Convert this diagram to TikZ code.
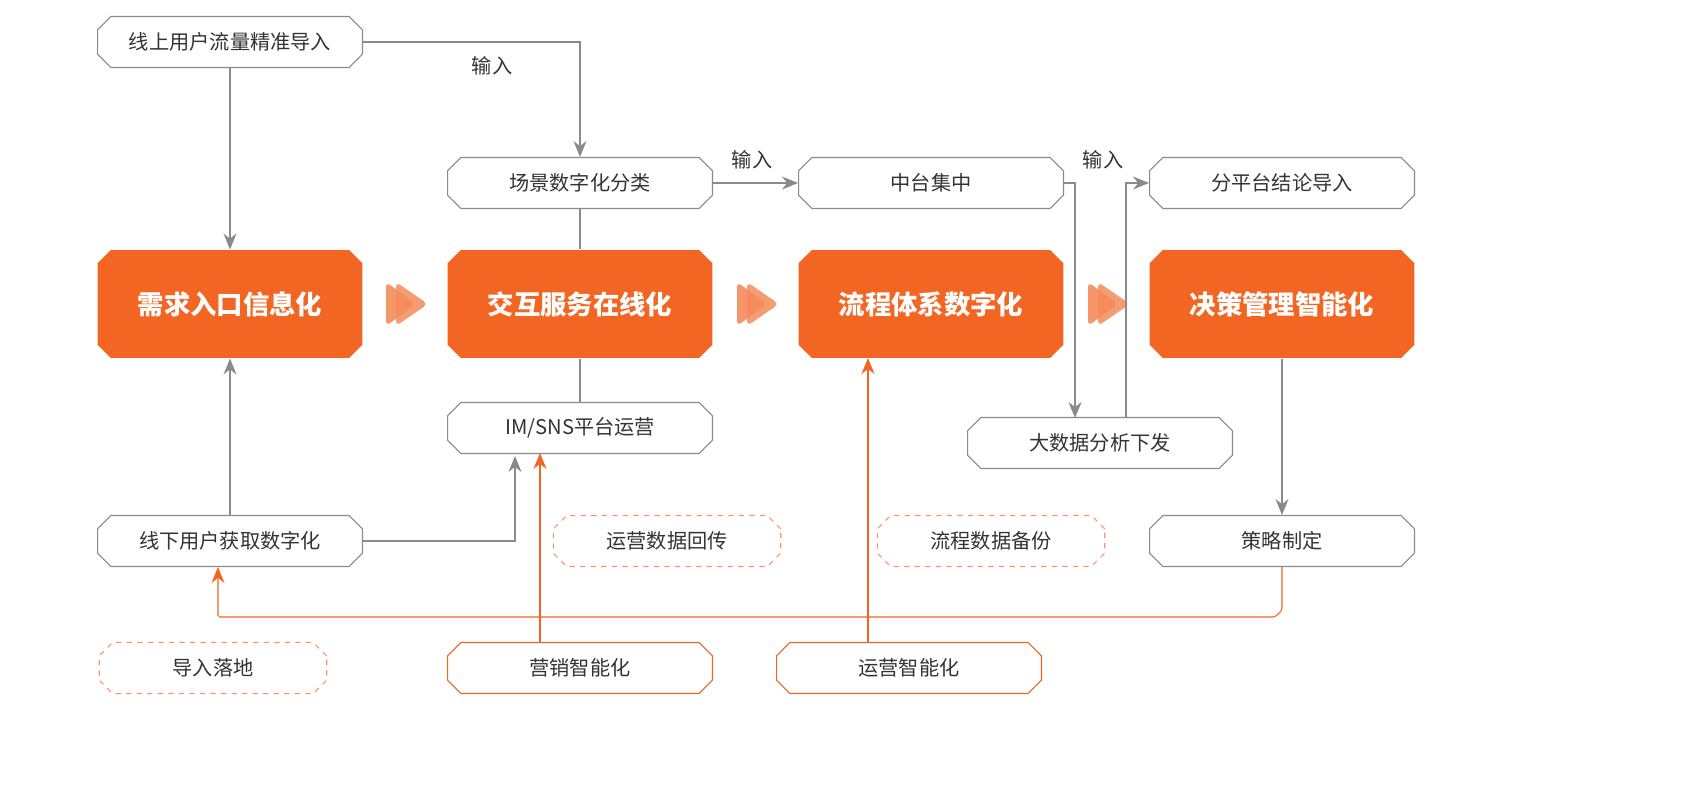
\documentclass[tikz,border=0pt]{standalone}
\usepackage{fontspec}
\setmainfont{Noto Sans CJK SC}
\usetikzlibrary{arrows.meta,shapes.misc,positioning,calc}
\definecolor{mainorange}{HTML}{F26522}
\definecolor{lightorange}{HTML}{F5956A}
\definecolor{linegray}{HTML}{8A8A8A}
\definecolor{textgray}{HTML}{333333}
\tikzset{
  box/.style={chamfered rectangle, chamfered rectangle xsep=0.14cm, chamfered rectangle corners={north west,north east,south west,south east}, draw=linegray, line width=0.6pt, minimum width=5.3cm, minimum height=1.02cm, inner sep=0pt, text=textgray, font=\fontsize{11.5}{14}\selectfont},
  hub/.style={box, draw=none, fill=mainorange, minimum height=2.16cm, text=white, font=\fontsize{15}{18}\selectfont\bfseries},
  dbox/.style={box, draw=lightorange, dashed, minimum width=4.55cm},
  obox/.style={box, draw=mainorange},
  flow/.style={draw=linegray, line width=0.6pt, -{Stealth[length=3.2mm,width=2.6mm]}},
  plain/.style={draw=linegray, line width=0.6pt},
  oflow/.style={draw=mainorange, line width=0.6pt, -{Stealth[length=3.2mm,width=2.6mm]}},
  lbl/.style={text=textgray, font=\fontsize{11.5}{14}\selectfont}
}
\newcommand{\fwd}[1]{%
  \fill[lightorange, rounded corners=3pt] ($(#1)+(-18,-22)$) -- ($(#1)+(-18,22)$) -- ($(#1)+(12,0)$) -- cycle;
  \fill[mainorange!75!white, opacity=0.85, rounded corners=3pt] ($(#1)+(-8,-22)$) -- ($(#1)+(-8,22)$) -- ($(#1)+(24,0)$) -- cycle;}
\begin{document}
\begin{tikzpicture}[x=0.02cm,y=-0.02cm]
\useasboundingbox (0,0) rectangle (1707,801);
% top row
\node[box] (online) at (230,42) {线上用户流量精准导入};
\node[box] (scene) at (580,183) {场景数字化分类};
\node[box] (center) at (931,183) {中台集中};
\node[box] (branch) at (1282,183) {分平台结论导入};
% main stages
\node[hub] (need) at (230,304) {需求入口信息化};
\node[hub] (serve) at (580,304) {交互服务在线化};
\node[hub] (proc) at (931,304) {流程体系数字化};
\node[hub] (decide) at (1282,304) {决策管理智能化};
\fwd{404,304}
\fwd{755,304}
\fwd{1106,304}
% middle row
\node[box] (im) at (580,428) {IM/SNS平台运营};
\node[box] (bigdata) at (1100,443) {大数据分析下发};
\node[box] (offline) at (230,541) {线下用户获取数字化};
\node[dbox] (backflow) at (667,541) {运营数据回传};
\node[dbox] (backup) at (991,541) {流程数据备份};
\node[box] (plan) at (1282,541) {策略制定};
% bottom row
\node[dbox] (land) at (213,668) {导入落地};
\node[obox] (market) at (580,668) {营销智能化};
\node[obox] (ops) at (909,668) {运营智能化};
% connectors
\draw[flow] (online.east) -- (580,42) -- (scene.north);
\node[lbl] (in1) at (492,66) {输入};
\draw[flow] (online.south -| need.north) -- (need.north);
\draw[flow] (offline.north) -- (need.south);
\draw[flow] (offline.east) -| (515,456);
\draw[flow] (scene.east) -- (center.west);
\node[lbl] (in2) at (752,160) {输入};
\draw[plain] (scene.south) -- (serve.north);
\draw[plain] (serve.south) -- (im.north);
\draw[flow] (center.east) -- (1075,183) -- (1075,418);
\draw[flow] (1126,418) -- (1126,183) -- (branch.west);
\node[lbl] (in3) at (1103,160) {输入};
\draw[flow] (decide.south) -- (plan.north);
\draw[oflow, rounded corners=1pt] (plan.south) -- (1282,610) -- (1275,617) -- (218,617) -- (218,567);
\draw[oflow] (540,642) -- (540,453);
\draw[oflow] (868,642) -- (868,358);
\end{tikzpicture}
\end{document}
